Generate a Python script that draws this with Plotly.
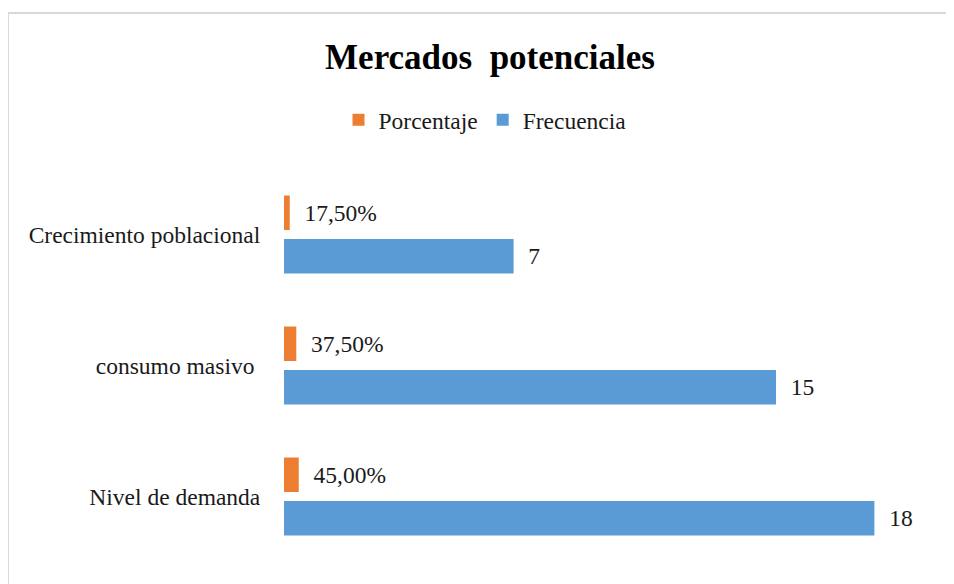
import plotly.graph_objects as go

categories = ["Nivel de demanda", "consumo masivo", "Crecimiento poblacional"]
tick_labels = ["Nivel de demanda", "consumo masivo\u00a0", "Crecimiento poblacional"]
porcentaje = [0.45, 0.375, 0.175]
frecuencia = [18, 15, 7]

FONT = "Liberation Serif"
FS = 23.5
PAD = "\u00a0\u00a0"

# page body has an 8px margin; target pixel positions are shifted by it
OX, OY = 8, 8

fig = go.Figure()
fig.add_trace(go.Bar(
    name="Frecuencia", y=categories, x=frecuencia, orientation="h",
    marker=dict(color="#5B9BD5", line=dict(width=0)),
    texttemplate=PAD + "%{x}", textposition="outside", constraintext="none",
    cliponaxis=False, textfont=dict(family=FONT, size=FS, color="#1a1a1a"),
    legendrank=2,
))
fig.add_trace(go.Bar(
    name="Porcentaje", y=categories, x=porcentaje, orientation="h",
    marker=dict(color="#ED7D31", line=dict(width=0)),
    texttemplate=PAD + "%{x:.2%}", textposition="outside", constraintext="none",
    cliponaxis=False, textfont=dict(family=FONT, size=FS, color="#1a1a1a"),
    legendrank=1,
))

W, H = 954, 584
L = 284 - OX
R = W - (940 - OX)
T = 169 - OY
B = H - (562 - OY)
pw = W - L - R
ph = H - T - B

def px_x(p):
    return (p - OX - L) / pw

def px_y(p):
    return (H - B - (p - OY)) / ph

fig.update_layout(
    width=W, height=H,
    margin=dict(l=L, r=R, t=T, b=B, pad=0),
    paper_bgcolor="white", plot_bgcolor="white",
    separators=",.",
    barmode="group", bargap=0.336, bargroupgap=0.207,
    font=dict(family=FONT, size=FS, color="#1a1a1a"),
    title=dict(text="<b>Mercados\u00a0 potenciales</b>", x=(490 - OX) / W, xref="container",
               xanchor="center", y=1 - (57 - OY) / H, yref="container", yanchor="middle",
               font=dict(family=FONT, size=35, color="#000000")),
    legend=dict(orientation="h", x=(485 - OX) / W, xref="container", xanchor="center",
                y=1 - (120 - OY) / H, yref="container", yanchor="middle",
                font=dict(family=FONT, size=FS, color="#1a1a1a"),
                bgcolor="rgba(0,0,0,0)"),
    xaxis=dict(range=[0, 20], visible=False, showgrid=False, zeroline=False),
    yaxis=dict(categoryorder="array", categoryarray=categories,
               tickvals=categories, ticktext=tick_labels,
               range=[-0.5, 2.5], showgrid=False, zeroline=False, showline=False,
               ticks="outside", ticklen=18, tickcolor="rgba(0,0,0,0)",
               tickfont=dict(family=FONT, size=FS, color="#1a1a1a")),
    shapes=[dict(type="rect", xref="paper", yref="paper",
                 x0=px_x(8), x1=px_x(980), y0=px_y(13), y1=px_y(620),
                 line=dict(color="#d9d9d9", width=2), fillcolor="rgba(0,0,0,0)",
                 layer="below")],
)

fig.write_html("out.html")
